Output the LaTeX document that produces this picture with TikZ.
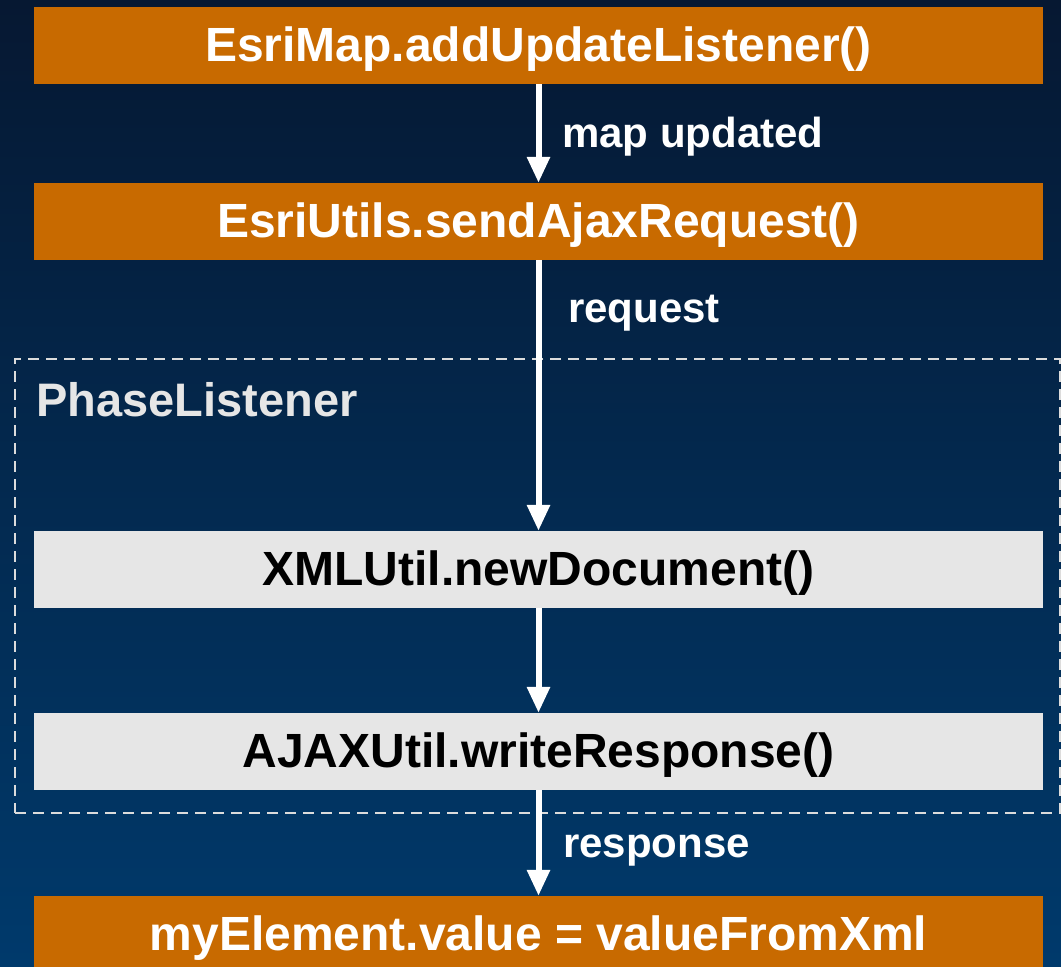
\documentclass[tikz,border=0pt]{standalone}
\usepackage{fontspec}
\setmainfont{Liberation Sans}
\usetikzlibrary{arrows.meta}
\definecolor{bgtop}{RGB}{6,24,50}
\definecolor{bgbot}{RGB}{0,58,108}
\definecolor{orangebox}{RGB}{200,106,0}
\definecolor{graybox}{RGB}{230,230,230}
\definecolor{dashgray}{RGB}{220,220,220}
\tikzset{
  x=1pt, y=-1pt,
  bigfont/.style={font=\fontsize{48}{56}\selectfont\bfseries},
  labfont/.style={font=\fontsize{42}{50}\selectfont\bfseries},
  orangestep/.style={rectangle, fill=orangebox, text=white, bigfont, minimum width=1009pt, minimum height=77pt, inner sep=0pt, text height=36pt, text depth=5pt},
  graystep/.style={rectangle, fill=graybox, text=black, bigfont, minimum width=1009pt, minimum height=77pt, inner sep=0pt, text height=36pt, text depth=5pt},
  phasebox/.style={rectangle, draw=dashgray, line width=2pt, dash pattern=on 11pt off 7pt, minimum width=1045pt, minimum height=454pt, inner sep=0pt},
  flow/.style={draw=white, line width=6pt, -{Triangle[width=22pt,length=26pt]}},
  flowlabel/.style={text=white, labfont, anchor=base west, inner sep=0pt},
}
\begin{document}
\begin{tikzpicture}
\shade[top color=bgtop, bottom color=bgbot] (0,0) rectangle (1061,967);
\useasboundingbox (0,0) rectangle (1061,967);
\node[phasebox] (pl) at (537.5,586) {};
\node[text=graybox, font=\fontsize{47}{56}\selectfont\bfseries, anchor=base west, inner sep=0pt] (pltitle) at (36,416) {PhaseListener};
\node[orangestep] (b1) at (538.5,45.5) {EsriMap.addUpdateListener()};
\node[orangestep] (b2) at (538.5,221.5) {EsriUtils.sendAjaxRequest()};
\node[graystep] (b3) at (538.5,569.5) {XMLUtil.newDocument()};
\node[graystep] (b4) at (538.5,751.5) {AJAXUtil.writeResponse()};
\node[orangestep] (b5) at (538.5,934.5) {myElement.value = valueFromXml};
\draw[flow] (b1.south) -- (b2.north);
\draw[flow] (b2.south) -- (b3.north);
\draw[flow] (b3.south) -- (b4.north);
\draw[flow] (b4.south) -- (b5.north);
\node[flowlabel] (l1) at (562,147) {map updated};
\node[flowlabel] (l2) at (568,322) {request};
\node[flowlabel] (l3) at (563,857) {response};
\end{tikzpicture}
\end{document}
